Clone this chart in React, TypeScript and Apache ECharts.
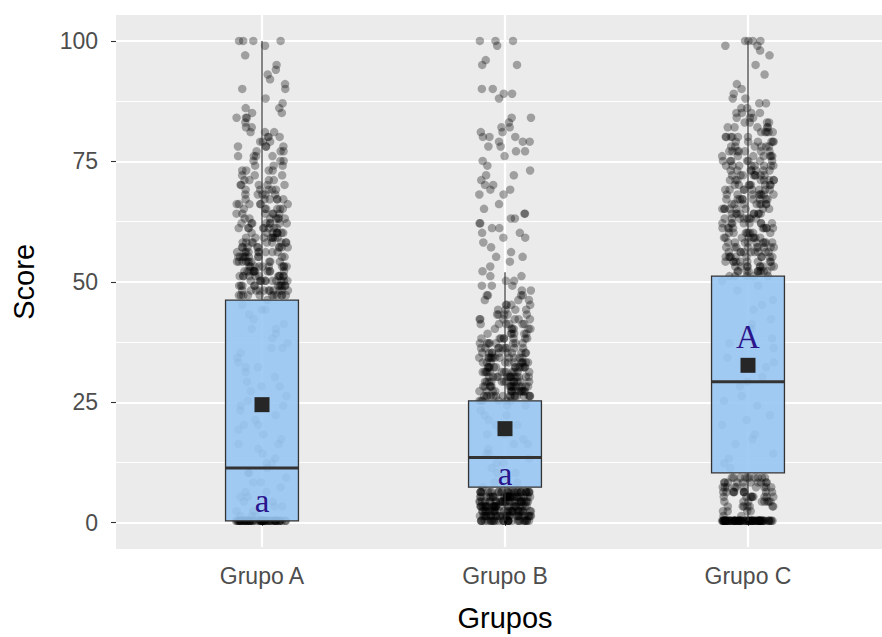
import { useEffect, useRef } from "react";
import * as echarts from "echarts";

// Groups and box-plot summary per group
const groups = ["Grupo A", "Grupo B", "Grupo C"];
const whiskerLow = [0, 0, 0];
const q1 = [0, 7, 10];
const median = [11, 13.2, 29];
const q3 = [46, 25, 51];
const whiskerHigh = [100, 51.8, 100];
const means = [24.2, 19.2, 32.4];
// Compact-letter display (Tukey groups)
const letters = ["a", "a", "A"];
const letterY = [4.1, 9.8, 38.3];

// Individual scores (jittered horizontally by the category axis)
const scoresA = [
  100, 100, 100, 100, 99, 97, 95, 94, 93, 92, 91, 90, 90, 88, 87, 86, 86, 85, 85, 84, 84, 84, 83, 82, 82, 81, 81,
  80, 80, 80, 79, 79, 78, 78, 78, 77, 77, 76, 76, 76, 75, 75, 74, 74, 73, 73, 73, 72, 72, 71, 71, 71, 70, 70, 70,
  69, 69, 68, 68, 68, 67, 67, 67, 66, 66, 66, 65, 65, 65, 64, 64, 64, 63, 63, 63, 63, 62, 62, 62, 62, 61, 61, 61,
  61, 60, 60, 60, 60, 59, 59, 59, 59, 58, 58, 58, 58, 58, 57, 57, 57, 57, 57, 56, 56, 56, 56, 56, 55, 55, 55, 55,
  55, 55, 54, 54, 54, 54, 54, 54, 53, 53, 53, 53, 53, 53, 52, 52, 52, 52, 52, 52, 52, 51, 51, 51, 51, 51, 51, 51,
  50, 50, 50, 50, 50, 50, 50, 49, 49, 49, 49, 49, 49, 49, 48, 48, 48, 48, 48, 48, 48, 47, 47, 47, 47, 47, 47, 47,
  47, 48, 49, 50, 51, 52, 53, 54, 55, 56, 57, 58, 59, 60, 61, 62, 63, 64, 65, 66, 67, 68, 69, 70, 48, 50, 52, 54,
  56, 58, 60, 62, 64, 66, 68, 70, 72, 74, 76, 78,
  47, 48, 49, 50, 51, 52, 53, 54, 55, 56, 57, 58, 59, 60, 61, 62, 63, 64, 65, 66, 67, 69, 71, 73, 75, 77, 79, 81,
  47, 49, 51, 53, 55, 57, 59, 61, 63, 65, 67, 69, 48, 50, 52, 54, 56, 58, 60, 62, 47, 49, 51, 53, 55, 57, 59, 61,
  46, 45, 44, 43, 42, 41, 40, 39, 38, 37, 36, 35, 34, 33, 32, 31, 30, 29, 28, 27, 26, 25, 24, 23, 22, 21, 20,
  19, 18, 17, 16, 15, 14, 13, 12, 11, 10, 9, 8, 7, 6, 5, 4, 3, 2, 1, 44, 40, 36, 32, 28, 24, 20, 16, 12, 10, 8, 6,
  5, 4, 3, 2, 1, 1, 0, 0, 0, 0, 0, 0, 0, 0, 0, 0, 0, 0, 0, 0, 0, 0, 0, 0, 0, 0, 0, 0, 0, 0, 0, 0, 0, 0, 0, 0, 0, 0,
  0, 0, 0, 0, 0, 0, 0, 0, 0, 0, 0, 0, 0, 0, 0, 0, 0, 0, 0, 0, 0, 0, 0, 0,
];

const scoresB = [
  100, 100, 100, 99, 96, 95, 95, 90, 90, 89, 89, 88, 84, 84, 83, 82, 82, 81, 81, 80, 80, 80, 79, 79, 79, 78, 78, 77,
  77, 76, 75, 74, 73, 72, 72, 71, 70, 70, 69, 69, 68, 68, 66, 65, 64, 64, 63, 63, 62, 62, 61, 61, 60, 60, 59, 59,
  58, 57, 56, 55, 55, 54, 53, 52, 51, 51, 50, 50, 49, 49, 48, 48, 47, 47, 47, 46, 46, 46, 45, 45, 45, 44, 44, 44,
  43, 43, 43, 42, 42, 42, 42, 41, 41, 41, 41, 40, 40, 40, 40, 39, 39, 39, 39, 38, 38, 38, 38, 38, 37, 37, 37, 37,
  37, 36, 36, 36, 36, 36, 35, 35, 35, 35, 35, 35, 34, 34, 34, 34, 34, 34, 33, 33, 33, 33, 33, 33, 33, 32, 32, 32,
  32, 32, 32, 32, 31, 31, 31, 31, 31, 31, 31, 31, 30, 30, 30, 30, 30, 30, 30, 30, 29, 29, 29, 29, 29, 29, 29, 29,
  29, 28, 28, 28, 28, 28, 28, 28, 28, 28, 27, 27, 27, 27, 27, 27, 27, 27, 27, 27, 26, 26, 26, 26, 26, 26, 26, 26,
  26, 26, 25, 25, 25, 25, 25, 25,
  26, 27, 28, 29, 30, 31, 32, 33, 34, 35, 36, 37, 38, 39, 40, 41, 42, 43, 44, 26, 28, 30, 32, 34, 36,
  26, 27, 28, 29, 30, 31, 32, 33, 34, 35, 36, 37, 38, 39, 40, 41, 42, 43, 45, 47, 49, 26, 27, 28, 29, 30, 31, 32,
  33, 34, 35, 36, 37, 38, 26, 27, 28, 29, 30, 31, 32, 33, 34, 35, 26, 28, 30, 32, 34,
  24, 23, 22, 21, 20, 19, 18, 17, 16, 15, 14, 13, 12, 11, 10, 9, 8, 7, 24, 22, 20, 18, 16, 14, 12, 10, 8,
  6, 6, 6, 6, 6, 6, 6, 6, 6, 6, 6, 6, 6, 6, 6, 6, 6, 6, 6, 6, 6, 6, 6, 6, 6, 6, 6, 6,
  5, 5, 5, 5, 5, 5, 5, 5, 5, 5, 5, 5, 5, 5, 5, 5, 5, 5, 5, 5, 5, 5, 5, 5, 5, 5, 5, 5,
  4, 4, 4, 4, 4, 4, 4, 4, 4, 4, 4, 4, 4, 4, 4, 4, 4, 4, 4, 4, 4, 4, 4, 4, 4, 4, 4, 4,
  3, 3, 3, 3, 3, 3, 3, 3, 3, 3, 3, 3, 3, 3, 3, 3, 3, 3, 3, 3, 3, 3, 3, 3, 3, 3, 3, 3,
  2, 2, 2, 2, 2, 2, 2, 2, 2, 2, 2, 2, 2, 2, 2, 2, 2, 2, 2, 2, 2, 2, 2, 2, 2, 2, 2, 2,
  1, 1, 1, 1, 1, 1, 1, 1, 1, 1, 1, 1, 1, 1, 1, 1, 1, 1, 1, 1, 1, 1, 1, 1, 1, 1, 1, 1,
  0, 0, 0, 0, 0, 0, 0, 0, 0, 0, 0, 0, 0, 0, 0, 0, 0, 0, 0, 0, 0, 0, 0, 0, 0, 0, 0, 0, 0, 0,
];

const scoresC = [
  100, 100, 100, 100, 99, 99, 98, 97, 95, 93, 91, 90, 89, 88, 88, 87, 87, 86, 86, 85, 85, 85, 84, 84, 84, 83, 83,
  83, 82, 82, 82, 82, 81, 81, 81, 81, 80, 80, 80, 80, 79, 79, 79, 79, 78, 78, 78, 78, 77, 77, 77, 77, 77, 76, 76,
  76, 76, 76, 75, 75, 75, 75, 75, 74, 74, 74, 74, 74, 73, 73, 73, 73, 73, 72, 72, 72, 72, 72, 71, 71, 71, 71, 71,
  70, 70, 70, 70, 70, 69, 69, 69, 69, 69, 68, 68, 68, 68, 68, 67, 67, 67, 67, 67, 66, 66, 66, 66, 66, 65, 65, 65,
  65, 65, 64, 64, 64, 64, 64, 63, 63, 63, 63, 63, 62, 62, 62, 62, 62, 61, 61, 61, 61, 61, 60, 60, 60, 60, 60, 59,
  59, 59, 59, 59, 58, 58, 58, 58, 58, 57, 57, 57, 57, 57, 57, 56, 56, 56, 56, 56, 56, 55, 55, 55, 55, 55, 55, 54,
  54, 54, 54, 54, 54, 53, 53, 53, 53, 53, 53, 52, 52, 52, 52, 52, 52, 51, 51, 51, 51, 51,
  52, 54, 56, 58, 60, 62, 64, 66, 68, 70, 72, 74, 76, 78, 80, 82, 53, 55, 57, 59, 61, 63, 65, 67, 69, 71, 73, 75,
  77, 79,
  52, 53, 54, 55, 56, 57, 58, 59, 60, 61, 62, 63, 64, 65, 66, 67, 68, 69, 70, 71, 72, 73, 74, 75, 76, 77, 78, 79,
  80, 81, 83, 85, 52, 54, 56, 58, 60, 62, 64, 66, 68, 70, 72, 74, 53, 55, 57, 59, 61, 63, 65, 67, 69, 71, 52, 55,
  58, 61, 64, 67,
  50, 48, 46, 44, 42, 40, 38, 36, 34, 32, 30, 28, 26, 24, 22, 20, 18, 16, 14, 12, 11, 49, 45, 41, 37, 33, 29, 25,
  21, 17, 13,
  9, 9, 9, 9, 9, 9, 9, 9, 9, 9, 8, 8, 8, 8, 8, 8, 8, 8, 8, 8, 7, 7, 7, 7, 7, 7, 7, 7, 7, 7,
  6, 6, 6, 6, 6, 6, 6, 6, 6, 6, 5, 5, 5, 5, 5, 5, 5, 5, 5, 4, 4, 4, 4, 4, 4, 4, 4, 3, 3, 3, 3, 3, 3, 3,
  2, 2, 2, 2, 1, 1,
  0, 0, 0, 0, 0, 0, 0, 0, 0, 0, 0, 0, 0, 0, 0, 0, 0, 0, 0, 0, 0, 0, 0, 0, 0, 0, 0, 0, 0, 0, 0, 0, 0, 0, 0, 0, 0, 0,
  0, 0, 0, 0, 0, 0, 0, 0, 0, 0, 0, 0, 0, 0, 0, 0, 0, 0, 0, 0, 0, 0, 0, 0, 0, 0, 0, 0, 0, 0, 0, 0, 0, 0, 0, 0, 0, 0,
];

const SANS = "'Liberation Sans', Arial, Helvetica, sans-serif";
const SERIF = "'Liberation Serif', 'Times New Roman', serif";
const INK = "#333333";

export default function App() {
  const ref = useRef<HTMLDivElement>(null);

  useEffect(() => {
    if (!ref.current) return;
    const chart = echarts.init(ref.current, null, { renderer: "svg" });

    const pointData = [scoresA, scoresB, scoresC].flatMap((s, i) => s.map((v) => [i, v]));
    const boxData = groups.map((_, i) => [
      i,
      whiskerLow[i],
      q1[i],
      median[i],
      q3[i],
      whiskerHigh[i],
      means[i],
      letterY[i],
    ]);

    const option: any = {
      animation: false,
      grid: [
        // panel background
        { left: 116, right: 0, top: 15, bottom: 88, show: true, backgroundColor: "#ebebeb", borderWidth: 0 },
        // score scale: 0..100
        { left: 116, right: 0, top: 41, bottom: 114.3 },
        // groups (data)
        { left: 262, right: 134, top: 15, bottom: 88 },
      ],
      xAxis: [
        { type: "value", gridIndex: 0, min: 0, max: 1, show: false },
        { type: "value", gridIndex: 1, min: 0, max: 1, show: false },
        {
          type: "category",
          gridIndex: 2,
          data: groups,
          boundaryGap: false,
          jitter: 52,
          jitterOverlap: true,
          axisLine: { show: false },
          axisTick: { show: true, length: 5, lineStyle: { color: INK, width: 1.1 } },
          axisLabel: { interval: 0, fontSize: 23, color: "#4d4d4d", margin: 17, fontFamily: SANS },
          splitLine: { show: true, lineStyle: { color: "#ffffff", width: 2.2 } },
          name: "Grupos",
          nameLocation: "middle",
          nameGap: 56,
          nameTextStyle: { fontSize: 29, color: "#000", fontFamily: SANS },
        },
      ],
      yAxis: [
        { type: "value", gridIndex: 0, min: 0, max: 1, show: false },
        {
          type: "value",
          gridIndex: 1,
          min: 0,
          max: 100,
          interval: 25,
          axisLine: { show: false },
          axisTick: { show: true, length: 5, lineStyle: { color: INK, width: 1.1 } },
          axisLabel: { fontSize: 23, color: "#4d4d4d", margin: 18, fontFamily: SANS },
          splitLine: { show: true, lineStyle: { color: "#ffffff", width: 2.2 } },
          minorTick: { show: false, splitNumber: 2 },
          minorSplitLine: { show: true, lineStyle: { color: "#ffffff", width: 1.1 } },
          name: "Score",
          nameLocation: "middle",
          nameGap: 78,
          nameTextStyle: { fontSize: 29, color: "#000", fontFamily: SANS },
        },
        { type: "value", gridIndex: 2, min: -5.46, max: 105.4, show: false },
      ],
      series: [
        {
          type: "scatter",
          xAxisIndex: 2,
          yAxisIndex: 2,
          z: 2,
          data: pointData,
          symbol: "circle",
          symbolSize: 8.5,
          clip: false,
          progressive: 0,
          silent: true,
          itemStyle: { color: "rgba(0,0,0,0.4)" },
        },
        {
          type: "custom",
          xAxisIndex: 2,
          yAxisIndex: 2,
          z: 5,
          data: boxData,
          clip: false,
          silent: true,
          encode: { x: 0, y: [1, 2, 3, 4, 5, 6, 7] },
          renderItem: (params: any, api: any) => {
            const c = api.value(0);
            const lo = api.coord([c, api.value(1)]);
            const b1 = api.coord([c, api.value(2)]);
            const md = api.coord([c, api.value(3)]);
            const b3 = api.coord([c, api.value(4)]);
            const hi = api.coord([c, api.value(5)]);
            const mn = api.coord([c, api.value(6)]);
            const lb = api.coord([c, api.value(7)]);
            const band = api.size([1, 0])[0];
            const half = band * 0.15;
            const x = lo[0];
            const sq = 15;
            return {
              type: "group",
              children: [
                {
                  type: "line",
                  shape: { x1: x, y1: b3[1], x2: x, y2: hi[1] },
                  style: { stroke: INK, lineWidth: 1.2 },
                },
                {
                  type: "line",
                  shape: { x1: x, y1: b1[1], x2: x, y2: lo[1] },
                  style: { stroke: INK, lineWidth: 1.2 },
                },
                {
                  type: "rect",
                  shape: { x: x - half, y: b3[1], width: half * 2, height: b1[1] - b3[1] },
                  style: { fill: "rgba(153,199,243,0.9)", stroke: INK, lineWidth: 1.3 },
                },
                {
                  type: "line",
                  shape: { x1: x - half, y1: md[1], x2: x + half, y2: md[1] },
                  style: { stroke: INK, lineWidth: 3 },
                },
                {
                  type: "rect",
                  shape: { x: x - sq / 2, y: mn[1] - sq / 2, width: sq, height: sq },
                  style: { fill: "#262626" },
                },
                {
                  type: "text",
                  x: x,
                  y: lb[1],
                  style: {
                    text: letters[params.dataIndex],
                    fill: "#2a158c",
                    fontSize: 33,
                    fontFamily: SERIF,
                    align: "center",
                    verticalAlign: "middle",
                  },
                },
              ],
            };
          },
        },
      ],
    };

    chart.setOption(option);
    return () => chart.dispose();
  }, []);

  return (
    <div
      ref={ref}
      style={{ position: "absolute", left: 0, top: 0, width: 882, height: 637, background: "#ffffff" }}
    />
  );
}
